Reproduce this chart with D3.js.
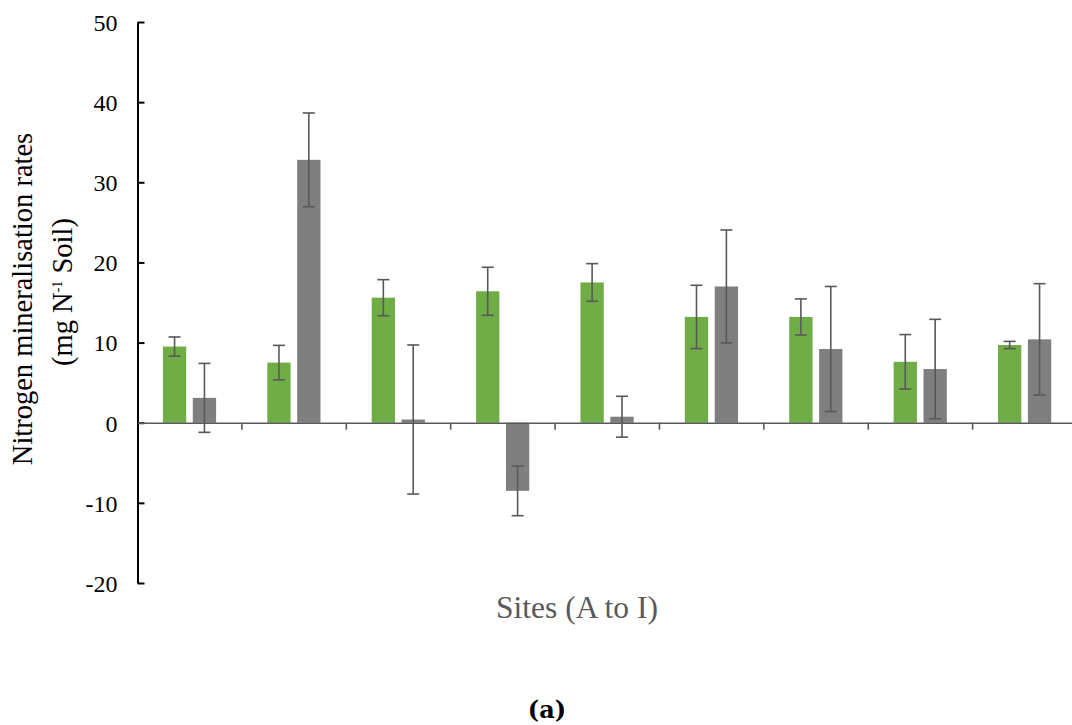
<!DOCTYPE html>
<html>
<head>
<meta charset="utf-8">
<script src="https://cdn.jsdelivr.net/npm/d3@7"></script>
<style>
  body { margin: 0; background: #fff; }
  svg text { font-family: 'Liberation Serif', 'Times New Roman', Times, serif; }
</style>
</head>
<body>
<div id="chart"></div>
<script>
// data
let sites = ["A", "B", "C", "D", "E", "F", "G", "H", "I"];
let series = ["s1", "s2"];
let s1Values = [9.5, 7.5, 15.6, 16.4, 17.5, 13.2, 13.2, 7.6, 9.7];
let s1Errors = [1.2, 2.15, 2.25, 3.0, 2.35, 3.95, 2.25, 3.4, 0.45];
let s2Values = [3.1, 32.8, 0.4, -8.5, 0.75, 17.0, 9.2, 6.7, 10.4];
let s2Errors = [4.3, 5.85, 9.3, 3.1, 2.55, 7.05, 7.8, 6.2, 6.95];
let yTicks = [-20, -10, 0, 10, 20, 30, 40, 50];

let width = 1072, height = 725;
let margin = { top: 22, bottom: 142, left: 137.5, right: -5 };
let serif = "'Liberation Serif', 'Times New Roman', Times, serif";

let col = d3.scaleOrdinal()
  .domain(series)
  .range(["#70ad47", "#7f7f7f"]);

let svg = d3.select("#chart").append("svg")
  .attr("width", width)
  .attr("height", height);

let data = sites.map((s, i) => {
  return {
    site: s,
    bars: [
      { key: "s1", value: s1Values[i], err: s1Errors[i] },
      { key: "s2", value: s2Values[i], err: s2Errors[i] }
    ]
  };
});

let x0 = d3.scaleBand()
  .domain(sites)
  .range([margin.left, width - margin.right]);

let x1 = d3.scaleBand()
  .domain(series)
  .range([25.4, 78.6])
  .paddingInner(0.22);

let y = d3.scaleLinear()
  .domain([-20, 50])
  .range([583, margin.top]);

// bars
let groups = svg.selectAll(".site")
  .data(data)
  .enter().append("g")
  .attr("class", "site")
  .attr("transform", d => `translate(${x0(d.site)},0)`);

groups.selectAll("rect")
  .data(d => d.bars)
  .enter().append("rect")
  .attr("x", d => x1(d.key))
  .attr("y", d => y(Math.max(0, d.value)))
  .attr("width", x1.bandwidth())
  .attr("height", d => Math.abs(y(d.value) - y(0)))
  .style("fill", d => col(d.key));

// error bars
let eb = groups.selectAll(".err")
  .data(d => d.bars)
  .enter().append("g")
  .attr("class", "err")
  .attr("stroke", "#595959")
  .attr("stroke-width", 1.6);

let cx = d => x1(d.key) + x1.bandwidth() / 2;
eb.append("line")
  .attr("x1", cx).attr("x2", cx)
  .attr("y1", d => y(d.value + d.err))
  .attr("y2", d => y(d.value - d.err));
eb.append("line")
  .attr("x1", d => cx(d) - 6).attr("x2", d => cx(d) + 6)
  .attr("y1", d => y(d.value + d.err))
  .attr("y2", d => y(d.value + d.err));
eb.append("line")
  .attr("x1", d => cx(d) - 6).attr("x2", d => cx(d) + 6)
  .attr("y1", d => y(d.value - d.err))
  .attr("y2", d => y(d.value - d.err));

// y axis, ticks point inward
let yAxis = d3.axisRight(y)
  .tickValues(yTicks)
  .tickSize(7)
  .tickSizeOuter(0)
  .tickFormat(d => String(d));

let gy = svg.append("g")
  .attr("transform", `translate(${margin.left},0)`)
  .call(yAxis)
  .attr("font-family", serif);
gy.select(".domain").attr("stroke", "#000").attr("stroke-width", 2);
gy.selectAll(".tick line").attr("stroke", "#000").attr("stroke-width", 2);
gy.selectAll(".tick text")
  .attr("x", -20)
  .attr("text-anchor", "end")
  .attr("dy", "0.35em")
  .style("font-size", "24px")
  .style("font-family", serif)
  .attr("fill", "#000");

// x axis at zero, category ticks between groups
let xAxis = d3.axisBottom(x0)
  .tickSize(0)
  .tickFormat("");
let gx = svg.append("g")
  .attr("transform", `translate(0,${y(0)})`)
  .call(xAxis);
gx.select(".domain").attr("stroke", "#595959").attr("stroke-width", 1.6);

gx.selectAll(".sep")
  .data(sites.slice(1))
  .enter().append("line")
  .attr("x1", d => x0(d)).attr("x2", d => x0(d))
  .attr("y1", 0).attr("y2", 7)
  .attr("stroke", "#595959")
  .attr("stroke-width", 1.6);

// titles
let yTitle = svg.append("text")
  .attr("transform", "translate(0,299) rotate(-90)")
  .attr("text-anchor", "middle")
  .style("font-size", "28.5px")
  .style("font-family", serif)
  .attr("fill", "#000");
yTitle.append("tspan")
  .attr("x", 0).attr("y", 32)
  .text("Nitrogen mineralisation rates");
let l2 = yTitle.append("tspan")
  .attr("x", 7).attr("y", 72);
l2.append("tspan").text("(mg N");
l2.append("tspan").attr("dy", -10).style("font-size", "14px").text("-1");
l2.append("tspan").attr("dy", 10).text(" Soil)");

svg.append("text")
  .attr("x", 577)
  .attr("y", 618)
  .attr("text-anchor", "middle")
  .style("font-size", "31.5px")
  .style("font-family", serif)
  .attr("fill", "#595959")
  .text("Sites (A to I)");

svg.append("text")
  .attr("x", 547)
  .attr("y", 718)
  .attr("text-anchor", "middle")
  .style("font-size", "24px")
  .style("font-weight", "bold")
  .style("font-family", "'DejaVu Serif', serif")
  .attr("fill", "#000")
  .text("(a)");
</script>
</body>
</html>
